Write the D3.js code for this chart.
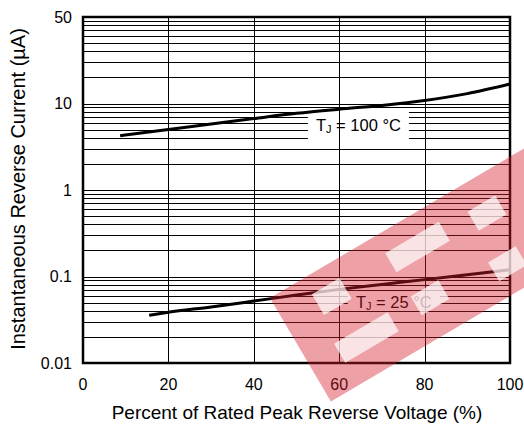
<!DOCTYPE html>
<html>
<head>
<meta charset="utf-8">
<script src="https://cdn.jsdelivr.net/npm/d3@7"></script>
<style>
  html, body { margin: 0; padding: 0; background: #fff; }
  svg { display: block; }
  text { font-family: "Liberation Sans", Arial, Helvetica, sans-serif; fill: #000; }
</style>
</head>
<body>
<svg id="chart" width="524" height="425"></svg>
<script>
// ---- data ----
const xTickValues = [0, 20, 40, 60, 80, 100];
const xTickLabels = ["0", "20", "40", "60", "80", "100"];
const yTickValues = [0.01, 0.1, 1, 10, 100];
const yTickLabels = ["0.01", "0.1", "1", "10", "50"];

const x100 = [8.7, 20, 30, 40, 50, 60, 70, 80, 90, 100];
const y100 = [4.25, 5.0, 5.8, 6.7, 7.7, 8.6, 9.5, 10.8, 13.0, 16.8];
const x25 = [15.5, 20, 30, 40, 50, 60, 70, 80, 90, 100];
const y25 = [0.0357, 0.0386, 0.0445, 0.052, 0.061, 0.071, 0.081, 0.092, 0.105, 0.12];

const xTitle = "Percent of Rated Peak Reverse Voltage (%)";
const yTitle = "Instantaneous Reverse Current (µA)";

// ---- layout ----
const L = 83, R = 510, T = 17, B = 363;
const svg = d3.select("#chart");
const x = d3.scaleLinear().domain([0, 100]).range([L, R]);
const y = d3.scaleLog().domain([0.01, 100]).range([B, T]);

// horizontal grid (log minor lines)
const hLines = [];
for (let e = -2; e < 2; e++) {
  for (let m = 1; m <= 9; m++) hLines.push(m * Math.pow(10, e));
}
svg.append("g").selectAll("line").data(hLines).join("line")
  .attr("x1", L).attr("x2", R)
  .attr("y1", d => Math.round(y(d)) + 0.5).attr("y2", d => Math.round(y(d)) + 0.5)
  .attr("stroke", "#000").attr("stroke-width", 1);

// label boxes interrupt horizontal lines
const labels = [
  { xv: 64.5, yv: 5.6, w: 101, h: 31, main: "T", sub: "J", rest: " = 100 °C" },
  { xv: 72.8, yv: 0.0514, w: 92, h: 19, main: "T", sub: "J", rest: " = 25 °C" }
];
svg.append("g").selectAll("rect").data(labels).join("rect")
  .attr("x", d => x(d.xv) - d.w / 2).attr("y", d => y(d.yv) - d.h / 2)
  .attr("width", d => d.w).attr("height", d => d.h)
  .attr("fill", "#fff");

// vertical grid
svg.append("g").selectAll("line").data([20, 40, 60, 80]).join("line")
  .attr("x1", d => Math.round(x(d)) + 0.5).attr("x2", d => Math.round(x(d)) + 0.5)
  .attr("y1", T).attr("y2", B)
  .attr("stroke", "#000").attr("stroke-width", 1);

// curves
const line = d3.line().curve(d3.curveMonotoneX).x(d => x(d[0])).y(d => y(d[1]));
svg.append("path").datum(x100.map((v, i) => [v, y100[i]]))
  .attr("d", line).attr("fill", "none").attr("stroke", "#000").attr("stroke-width", 3);
svg.append("path").datum(x25.map((v, i) => [v, y25[i]]))
  .attr("d", line).attr("fill", "none").attr("stroke", "#000").attr("stroke-width", 3);

// frame
svg.append("rect").attr("x", L).attr("y", T).attr("width", R - L).attr("height", B - T)
  .attr("fill", "none").attr("stroke", "#000").attr("stroke-width", 2.5);

// curve labels
labels.forEach(d => {
  const t = svg.append("text")
    .attr("x", x(d.xv)).attr("y", y(d.yv))
    .attr("text-anchor", "middle").attr("dominant-baseline", "central")
    .attr("font-size", 16.5);
  t.append("tspan").text(d.main);
  t.append("tspan").text(d.sub).attr("font-size", 11).attr("dy", 4);
  t.append("tspan").text(d.rest).attr("dy", -4);
});

// axes tick labels
svg.append("g").selectAll("text").data(xTickValues).join("text")
  .attr("x", d => x(d)).attr("y", 390)
  .attr("text-anchor", "middle").attr("font-size", 16)
  .text((d, i) => xTickLabels[i]);
svg.append("g").selectAll("text").data(yTickValues).join("text")
  .attr("x", 72).attr("y", d => y(d))
  .attr("text-anchor", "end").attr("dominant-baseline", "central").attr("font-size", 16)
  .text((d, i) => yTickLabels[i]);

// titles
svg.append("text").attr("x", 297).attr("y", 419)
  .attr("text-anchor", "middle").attr("font-size", 19).text(xTitle);
svg.append("text").attr("transform", "translate(25,189) rotate(-90)")
  .attr("text-anchor", "middle").attr("font-size", 20).text(yTitle);

// watermark (semi-transparent logo overlay)
const wm = svg.append("g").attr("transform", "translate(270,298) rotate(-30.5)");
wm.append("rect").attr("x", 0).attr("y", 0).attr("width", 345).attr("height", 120)
  .attr("fill", "#d5202e").attr("opacity", 0.42);
const holes = [
  [38, 18, 32, 24], [32, 72, 62, 22],
  [122, 20, 62, 22], [122, 70, 32, 22],
  [214, 26, 32, 22], [206, 80, 32, 22]
];
wm.selectAll("rect.hole").data(holes).join("rect").attr("class", "hole")
  .attr("x", d => d[0]).attr("y", d => d[1]).attr("width", d => d[2]).attr("height", d => d[3])
  .attr("fill", "#fff").attr("opacity", 0.7);
</script>
</body>
</html>
